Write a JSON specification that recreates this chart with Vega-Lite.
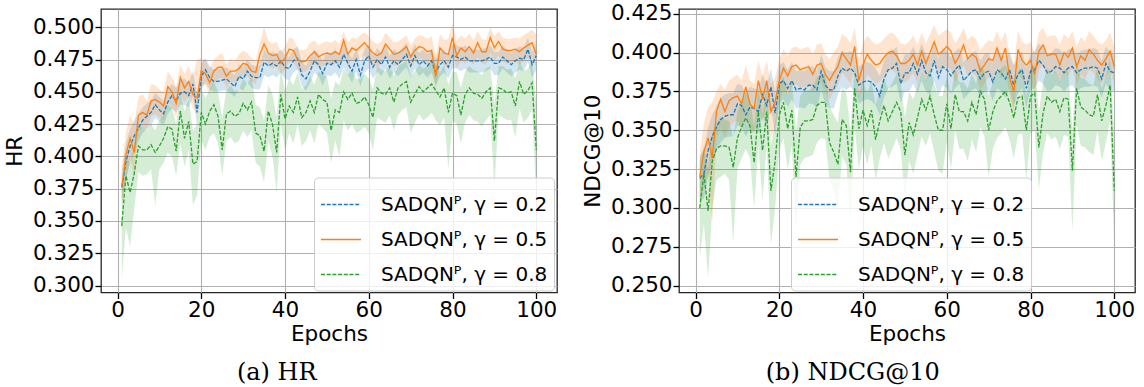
{
  "$schema": "https://vega.github.io/schema/vega-lite/v6.json",
  "background": "white",
  "padding": {"left": 3, "top": 2, "right": 4, "bottom": 0},
  "spacing": 23,
  "config": {
    "font": "DejaVu Sans",
    "view": {"stroke": "#262626", "strokeWidth": 1.3},
    "axis": {
      "labelFont": "DejaVu Sans", "labelFontSize": 21.5, "labelColor": "black",
      "titleFont": "DejaVu Sans", "titleFontSize": 21.5, "titleColor": "black", "titleFontWeight": "normal",
      "grid": true, "gridColor": "#b0b0b0", "gridWidth": 1.1,
      "domain": false, "tickColor": "black", "tickSize": 6, "tickWidth": 1.3,
      "labelPadding": 1, "labelFlush": false, "labelOverlap": false, "labelSeparation": -40
    },
    "title": {"font": "DejaVu Serif", "fontSize": 24, "fontWeight": "normal", "color": "black"},
    "legend": {
      "symbolType": "stroke", "symbolSize": 1600, "symbolStrokeWidth": 1.3,
      "labelFont": "DejaVu Sans", "labelFontSize": 20, "labelColor": "black", "labelOffset": 19, "labelLimit": 400,
      "rowPadding": 4, "padding": 6, "fillColor": "rgba(255,255,255,0.8)", "strokeColor": "#cccccc", "cornerRadius": 4
    }
  },
  "datasets": {
    "hr": [
      {"epoch":1,"gamma":"0.2","value":0.376,"lo":0.364,"hi":0.388},
      {"epoch":2,"gamma":"0.2","value":0.396,"lo":0.382,"hi":0.410},
      {"epoch":3,"gamma":"0.2","value":0.408,"lo":0.395,"hi":0.421},
      {"epoch":4,"gamma":"0.2","value":0.416,"lo":0.404,"hi":0.428},
      {"epoch":5,"gamma":"0.2","value":0.422,"lo":0.412,"hi":0.433},
      {"epoch":6,"gamma":"0.2","value":0.428,"lo":0.418,"hi":0.438},
      {"epoch":7,"gamma":"0.2","value":0.431,"lo":0.421,"hi":0.441},
      {"epoch":8,"gamma":"0.2","value":0.434,"lo":0.424,"hi":0.443},
      {"epoch":9,"gamma":"0.2","value":0.440,"lo":0.430,"hi":0.449},
      {"epoch":10,"gamma":"0.2","value":0.436,"lo":0.427,"hi":0.446},
      {"epoch":11,"gamma":"0.2","value":0.433,"lo":0.424,"hi":0.443},
      {"epoch":12,"gamma":"0.2","value":0.442,"lo":0.433,"hi":0.452},
      {"epoch":13,"gamma":"0.2","value":0.447,"lo":0.437,"hi":0.456},
      {"epoch":14,"gamma":"0.2","value":0.443,"lo":0.434,"hi":0.453},
      {"epoch":15,"gamma":"0.2","value":0.449,"lo":0.440,"hi":0.459},
      {"epoch":16,"gamma":"0.2","value":0.450,"lo":0.440,"hi":0.460},
      {"epoch":17,"gamma":"0.2","value":0.447,"lo":0.438,"hi":0.457},
      {"epoch":18,"gamma":"0.2","value":0.456,"lo":0.446,"hi":0.466},
      {"epoch":19,"gamma":"0.2","value":0.434,"lo":0.424,"hi":0.448},
      {"epoch":20,"gamma":"0.2","value":0.462,"lo":0.452,"hi":0.472},
      {"epoch":21,"gamma":"0.2","value":0.467,"lo":0.457,"hi":0.476},
      {"epoch":22,"gamma":"0.2","value":0.461,"lo":0.452,"hi":0.470},
      {"epoch":23,"gamma":"0.2","value":0.458,"lo":0.450,"hi":0.467},
      {"epoch":24,"gamma":"0.2","value":0.458,"lo":0.450,"hi":0.468},
      {"epoch":25,"gamma":"0.2","value":0.459,"lo":0.451,"hi":0.468},
      {"epoch":26,"gamma":"0.2","value":0.460,"lo":0.451,"hi":0.469},
      {"epoch":27,"gamma":"0.2","value":0.457,"lo":0.449,"hi":0.466},
      {"epoch":28,"gamma":"0.2","value":0.454,"lo":0.446,"hi":0.463},
      {"epoch":29,"gamma":"0.2","value":0.462,"lo":0.453,"hi":0.471},
      {"epoch":30,"gamma":"0.2","value":0.460,"lo":0.451,"hi":0.469},
      {"epoch":31,"gamma":"0.2","value":0.466,"lo":0.457,"hi":0.475},
      {"epoch":32,"gamma":"0.2","value":0.462,"lo":0.453,"hi":0.471},
      {"epoch":33,"gamma":"0.2","value":0.461,"lo":0.452,"hi":0.470},
      {"epoch":34,"gamma":"0.2","value":0.461,"lo":0.452,"hi":0.471},
      {"epoch":35,"gamma":"0.2","value":0.473,"lo":0.463,"hi":0.483},
      {"epoch":36,"gamma":"0.2","value":0.470,"lo":0.461,"hi":0.479},
      {"epoch":37,"gamma":"0.2","value":0.472,"lo":0.463,"hi":0.481},
      {"epoch":38,"gamma":"0.2","value":0.470,"lo":0.461,"hi":0.479},
      {"epoch":39,"gamma":"0.2","value":0.474,"lo":0.465,"hi":0.483},
      {"epoch":40,"gamma":"0.2","value":0.469,"lo":0.460,"hi":0.478},
      {"epoch":41,"gamma":"0.2","value":0.468,"lo":0.459,"hi":0.477},
      {"epoch":42,"gamma":"0.2","value":0.474,"lo":0.465,"hi":0.483},
      {"epoch":43,"gamma":"0.2","value":0.476,"lo":0.467,"hi":0.485},
      {"epoch":44,"gamma":"0.2","value":0.463,"lo":0.454,"hi":0.473},
      {"epoch":45,"gamma":"0.2","value":0.460,"lo":0.451,"hi":0.470},
      {"epoch":46,"gamma":"0.2","value":0.466,"lo":0.457,"hi":0.476},
      {"epoch":47,"gamma":"0.2","value":0.474,"lo":0.465,"hi":0.483},
      {"epoch":48,"gamma":"0.2","value":0.471,"lo":0.462,"hi":0.480},
      {"epoch":49,"gamma":"0.2","value":0.464,"lo":0.455,"hi":0.474},
      {"epoch":50,"gamma":"0.2","value":0.472,"lo":0.463,"hi":0.481},
      {"epoch":51,"gamma":"0.2","value":0.471,"lo":0.462,"hi":0.480},
      {"epoch":52,"gamma":"0.2","value":0.474,"lo":0.465,"hi":0.483},
      {"epoch":53,"gamma":"0.2","value":0.469,"lo":0.460,"hi":0.478},
      {"epoch":54,"gamma":"0.2","value":0.479,"lo":0.469,"hi":0.488},
      {"epoch":55,"gamma":"0.2","value":0.472,"lo":0.463,"hi":0.481},
      {"epoch":56,"gamma":"0.2","value":0.466,"lo":0.457,"hi":0.476},
      {"epoch":57,"gamma":"0.2","value":0.475,"lo":0.466,"hi":0.484},
      {"epoch":58,"gamma":"0.2","value":0.463,"lo":0.454,"hi":0.473},
      {"epoch":59,"gamma":"0.2","value":0.474,"lo":0.465,"hi":0.483},
      {"epoch":60,"gamma":"0.2","value":0.478,"lo":0.468,"hi":0.487},
      {"epoch":61,"gamma":"0.2","value":0.469,"lo":0.460,"hi":0.478},
      {"epoch":62,"gamma":"0.2","value":0.475,"lo":0.466,"hi":0.484},
      {"epoch":63,"gamma":"0.2","value":0.471,"lo":0.462,"hi":0.480},
      {"epoch":64,"gamma":"0.2","value":0.477,"lo":0.468,"hi":0.486},
      {"epoch":65,"gamma":"0.2","value":0.469,"lo":0.460,"hi":0.478},
      {"epoch":66,"gamma":"0.2","value":0.474,"lo":0.465,"hi":0.483},
      {"epoch":67,"gamma":"0.2","value":0.471,"lo":0.462,"hi":0.480},
      {"epoch":68,"gamma":"0.2","value":0.475,"lo":0.466,"hi":0.484},
      {"epoch":69,"gamma":"0.2","value":0.479,"lo":0.469,"hi":0.488},
      {"epoch":70,"gamma":"0.2","value":0.470,"lo":0.461,"hi":0.479},
      {"epoch":71,"gamma":"0.2","value":0.478,"lo":0.468,"hi":0.487},
      {"epoch":72,"gamma":"0.2","value":0.471,"lo":0.462,"hi":0.480},
      {"epoch":73,"gamma":"0.2","value":0.474,"lo":0.465,"hi":0.483},
      {"epoch":74,"gamma":"0.2","value":0.470,"lo":0.461,"hi":0.479},
      {"epoch":75,"gamma":"0.2","value":0.474,"lo":0.465,"hi":0.483},
      {"epoch":76,"gamma":"0.2","value":0.465,"lo":0.455,"hi":0.476},
      {"epoch":77,"gamma":"0.2","value":0.471,"lo":0.462,"hi":0.480},
      {"epoch":78,"gamma":"0.2","value":0.474,"lo":0.465,"hi":0.483},
      {"epoch":79,"gamma":"0.2","value":0.469,"lo":0.460,"hi":0.478},
      {"epoch":80,"gamma":"0.2","value":0.478,"lo":0.468,"hi":0.487},
      {"epoch":81,"gamma":"0.2","value":0.477,"lo":0.468,"hi":0.486},
      {"epoch":82,"gamma":"0.2","value":0.475,"lo":0.466,"hi":0.484},
      {"epoch":83,"gamma":"0.2","value":0.477,"lo":0.468,"hi":0.486},
      {"epoch":84,"gamma":"0.2","value":0.474,"lo":0.465,"hi":0.483},
      {"epoch":85,"gamma":"0.2","value":0.474,"lo":0.465,"hi":0.483},
      {"epoch":86,"gamma":"0.2","value":0.474,"lo":0.465,"hi":0.483},
      {"epoch":87,"gamma":"0.2","value":0.474,"lo":0.465,"hi":0.483},
      {"epoch":88,"gamma":"0.2","value":0.475,"lo":0.466,"hi":0.484},
      {"epoch":89,"gamma":"0.2","value":0.477,"lo":0.468,"hi":0.486},
      {"epoch":90,"gamma":"0.2","value":0.472,"lo":0.463,"hi":0.481},
      {"epoch":91,"gamma":"0.2","value":0.472,"lo":0.463,"hi":0.481},
      {"epoch":92,"gamma":"0.2","value":0.477,"lo":0.468,"hi":0.486},
      {"epoch":93,"gamma":"0.2","value":0.474,"lo":0.465,"hi":0.483},
      {"epoch":94,"gamma":"0.2","value":0.471,"lo":0.462,"hi":0.480},
      {"epoch":95,"gamma":"0.2","value":0.474,"lo":0.465,"hi":0.483},
      {"epoch":96,"gamma":"0.2","value":0.476,"lo":0.467,"hi":0.485},
      {"epoch":97,"gamma":"0.2","value":0.475,"lo":0.466,"hi":0.484},
      {"epoch":98,"gamma":"0.2","value":0.483,"lo":0.473,"hi":0.492},
      {"epoch":99,"gamma":"0.2","value":0.471,"lo":0.461,"hi":0.481},
      {"epoch":100,"gamma":"0.2","value":0.478,"lo":0.467,"hi":0.488},
      {"epoch":1,"gamma":"0.5","value":0.376,"lo":0.362,"hi":0.392},
      {"epoch":2,"gamma":"0.5","value":0.401,"lo":0.383,"hi":0.418},
      {"epoch":3,"gamma":"0.5","value":0.414,"lo":0.398,"hi":0.432},
      {"epoch":4,"gamma":"0.5","value":0.403,"lo":0.385,"hi":0.425},
      {"epoch":5,"gamma":"0.5","value":0.432,"lo":0.420,"hi":0.446},
      {"epoch":6,"gamma":"0.5","value":0.434,"lo":0.422,"hi":0.448},
      {"epoch":7,"gamma":"0.5","value":0.432,"lo":0.421,"hi":0.443},
      {"epoch":8,"gamma":"0.5","value":0.443,"lo":0.431,"hi":0.456},
      {"epoch":9,"gamma":"0.5","value":0.444,"lo":0.433,"hi":0.455},
      {"epoch":10,"gamma":"0.5","value":0.442,"lo":0.430,"hi":0.452},
      {"epoch":11,"gamma":"0.5","value":0.439,"lo":0.428,"hi":0.450},
      {"epoch":12,"gamma":"0.5","value":0.454,"lo":0.441,"hi":0.466},
      {"epoch":13,"gamma":"0.5","value":0.450,"lo":0.439,"hi":0.461},
      {"epoch":14,"gamma":"0.5","value":0.441,"lo":0.430,"hi":0.454},
      {"epoch":15,"gamma":"0.5","value":0.461,"lo":0.448,"hi":0.471},
      {"epoch":16,"gamma":"0.5","value":0.453,"lo":0.442,"hi":0.464},
      {"epoch":17,"gamma":"0.5","value":0.458,"lo":0.446,"hi":0.470},
      {"epoch":18,"gamma":"0.5","value":0.448,"lo":0.437,"hi":0.462},
      {"epoch":19,"gamma":"0.5","value":0.445,"lo":0.433,"hi":0.475},
      {"epoch":20,"gamma":"0.5","value":0.466,"lo":0.455,"hi":0.476},
      {"epoch":21,"gamma":"0.5","value":0.464,"lo":0.455,"hi":0.474},
      {"epoch":22,"gamma":"0.5","value":0.457,"lo":0.449,"hi":0.468},
      {"epoch":23,"gamma":"0.5","value":0.466,"lo":0.457,"hi":0.475},
      {"epoch":24,"gamma":"0.5","value":0.469,"lo":0.460,"hi":0.478},
      {"epoch":25,"gamma":"0.5","value":0.469,"lo":0.461,"hi":0.480},
      {"epoch":26,"gamma":"0.5","value":0.462,"lo":0.453,"hi":0.471},
      {"epoch":27,"gamma":"0.5","value":0.466,"lo":0.458,"hi":0.476},
      {"epoch":28,"gamma":"0.5","value":0.466,"lo":0.457,"hi":0.474},
      {"epoch":29,"gamma":"0.5","value":0.468,"lo":0.459,"hi":0.479},
      {"epoch":30,"gamma":"0.5","value":0.472,"lo":0.463,"hi":0.482},
      {"epoch":31,"gamma":"0.5","value":0.471,"lo":0.462,"hi":0.480},
      {"epoch":32,"gamma":"0.5","value":0.466,"lo":0.458,"hi":0.476},
      {"epoch":33,"gamma":"0.5","value":0.465,"lo":0.456,"hi":0.474},
      {"epoch":34,"gamma":"0.5","value":0.479,"lo":0.468,"hi":0.488},
      {"epoch":35,"gamma":"0.5","value":0.487,"lo":0.476,"hi":0.500},
      {"epoch":36,"gamma":"0.5","value":0.480,"lo":0.470,"hi":0.490},
      {"epoch":37,"gamma":"0.5","value":0.478,"lo":0.468,"hi":0.487},
      {"epoch":38,"gamma":"0.5","value":0.479,"lo":0.470,"hi":0.489},
      {"epoch":39,"gamma":"0.5","value":0.472,"lo":0.464,"hi":0.481},
      {"epoch":40,"gamma":"0.5","value":0.476,"lo":0.467,"hi":0.485},
      {"epoch":41,"gamma":"0.5","value":0.483,"lo":0.473,"hi":0.492},
      {"epoch":42,"gamma":"0.5","value":0.482,"lo":0.473,"hi":0.491},
      {"epoch":43,"gamma":"0.5","value":0.475,"lo":0.467,"hi":0.484},
      {"epoch":44,"gamma":"0.5","value":0.473,"lo":0.465,"hi":0.482},
      {"epoch":45,"gamma":"0.5","value":0.474,"lo":0.466,"hi":0.483},
      {"epoch":46,"gamma":"0.5","value":0.478,"lo":0.469,"hi":0.488},
      {"epoch":47,"gamma":"0.5","value":0.481,"lo":0.472,"hi":0.490},
      {"epoch":48,"gamma":"0.5","value":0.477,"lo":0.469,"hi":0.486},
      {"epoch":49,"gamma":"0.5","value":0.479,"lo":0.470,"hi":0.488},
      {"epoch":50,"gamma":"0.5","value":0.480,"lo":0.472,"hi":0.489},
      {"epoch":51,"gamma":"0.5","value":0.479,"lo":0.470,"hi":0.488},
      {"epoch":52,"gamma":"0.5","value":0.481,"lo":0.472,"hi":0.490},
      {"epoch":53,"gamma":"0.5","value":0.479,"lo":0.471,"hi":0.487},
      {"epoch":54,"gamma":"0.5","value":0.490,"lo":0.479,"hi":0.497},
      {"epoch":55,"gamma":"0.5","value":0.479,"lo":0.470,"hi":0.488},
      {"epoch":56,"gamma":"0.5","value":0.484,"lo":0.475,"hi":0.492},
      {"epoch":57,"gamma":"0.5","value":0.482,"lo":0.473,"hi":0.491},
      {"epoch":58,"gamma":"0.5","value":0.485,"lo":0.476,"hi":0.494},
      {"epoch":59,"gamma":"0.5","value":0.488,"lo":0.478,"hi":0.496},
      {"epoch":60,"gamma":"0.5","value":0.484,"lo":0.475,"hi":0.493},
      {"epoch":61,"gamma":"0.5","value":0.480,"lo":0.471,"hi":0.489},
      {"epoch":62,"gamma":"0.5","value":0.478,"lo":0.469,"hi":0.487},
      {"epoch":63,"gamma":"0.5","value":0.480,"lo":0.472,"hi":0.489},
      {"epoch":64,"gamma":"0.5","value":0.487,"lo":0.477,"hi":0.496},
      {"epoch":65,"gamma":"0.5","value":0.483,"lo":0.474,"hi":0.492},
      {"epoch":66,"gamma":"0.5","value":0.479,"lo":0.470,"hi":0.488},
      {"epoch":67,"gamma":"0.5","value":0.480,"lo":0.471,"hi":0.489},
      {"epoch":68,"gamma":"0.5","value":0.482,"lo":0.473,"hi":0.491},
      {"epoch":69,"gamma":"0.5","value":0.485,"lo":0.475,"hi":0.494},
      {"epoch":70,"gamma":"0.5","value":0.477,"lo":0.468,"hi":0.486},
      {"epoch":71,"gamma":"0.5","value":0.482,"lo":0.473,"hi":0.491},
      {"epoch":72,"gamma":"0.5","value":0.485,"lo":0.476,"hi":0.494},
      {"epoch":73,"gamma":"0.5","value":0.484,"lo":0.475,"hi":0.493},
      {"epoch":74,"gamma":"0.5","value":0.481,"lo":0.472,"hi":0.491},
      {"epoch":75,"gamma":"0.5","value":0.482,"lo":0.472,"hi":0.493},
      {"epoch":76,"gamma":"0.5","value":0.462,"lo":0.452,"hi":0.478},
      {"epoch":77,"gamma":"0.5","value":0.484,"lo":0.474,"hi":0.495},
      {"epoch":78,"gamma":"0.5","value":0.480,"lo":0.471,"hi":0.490},
      {"epoch":79,"gamma":"0.5","value":0.479,"lo":0.469,"hi":0.491},
      {"epoch":80,"gamma":"0.5","value":0.492,"lo":0.479,"hi":0.503},
      {"epoch":81,"gamma":"0.5","value":0.478,"lo":0.468,"hi":0.489},
      {"epoch":82,"gamma":"0.5","value":0.484,"lo":0.474,"hi":0.494},
      {"epoch":83,"gamma":"0.5","value":0.481,"lo":0.472,"hi":0.491},
      {"epoch":84,"gamma":"0.5","value":0.485,"lo":0.475,"hi":0.495},
      {"epoch":85,"gamma":"0.5","value":0.480,"lo":0.471,"hi":0.490},
      {"epoch":86,"gamma":"0.5","value":0.488,"lo":0.477,"hi":0.497},
      {"epoch":87,"gamma":"0.5","value":0.481,"lo":0.472,"hi":0.491},
      {"epoch":88,"gamma":"0.5","value":0.481,"lo":0.471,"hi":0.490},
      {"epoch":89,"gamma":"0.5","value":0.492,"lo":0.480,"hi":0.500},
      {"epoch":90,"gamma":"0.5","value":0.484,"lo":0.474,"hi":0.493},
      {"epoch":91,"gamma":"0.5","value":0.489,"lo":0.478,"hi":0.497},
      {"epoch":92,"gamma":"0.5","value":0.483,"lo":0.473,"hi":0.492},
      {"epoch":93,"gamma":"0.5","value":0.482,"lo":0.472,"hi":0.491},
      {"epoch":94,"gamma":"0.5","value":0.482,"lo":0.473,"hi":0.491},
      {"epoch":95,"gamma":"0.5","value":0.483,"lo":0.473,"hi":0.492},
      {"epoch":96,"gamma":"0.5","value":0.481,"lo":0.471,"hi":0.491},
      {"epoch":97,"gamma":"0.5","value":0.484,"lo":0.474,"hi":0.494},
      {"epoch":98,"gamma":"0.5","value":0.486,"lo":0.476,"hi":0.496},
      {"epoch":99,"gamma":"0.5","value":0.488,"lo":0.477,"hi":0.498},
      {"epoch":100,"gamma":"0.5","value":0.479,"lo":0.469,"hi":0.494},
      {"epoch":1,"gamma":"0.8","value":0.346,"lo":0.305,"hi":0.372},
      {"epoch":2,"gamma":"0.8","value":0.385,"lo":0.345,"hi":0.400},
      {"epoch":3,"gamma":"0.8","value":0.372,"lo":0.330,"hi":0.395},
      {"epoch":4,"gamma":"0.8","value":0.387,"lo":0.360,"hi":0.410},
      {"epoch":5,"gamma":"0.8","value":0.408,"lo":0.388,"hi":0.425},
      {"epoch":6,"gamma":"0.8","value":0.405,"lo":0.385,"hi":0.422},
      {"epoch":7,"gamma":"0.8","value":0.405,"lo":0.386,"hi":0.420},
      {"epoch":8,"gamma":"0.8","value":0.409,"lo":0.390,"hi":0.425},
      {"epoch":9,"gamma":"0.8","value":0.403,"lo":0.362,"hi":0.420},
      {"epoch":10,"gamma":"0.8","value":0.408,"lo":0.390,"hi":0.428},
      {"epoch":11,"gamma":"0.8","value":0.414,"lo":0.395,"hi":0.432},
      {"epoch":12,"gamma":"0.8","value":0.423,"lo":0.403,"hi":0.440},
      {"epoch":13,"gamma":"0.8","value":0.421,"lo":0.400,"hi":0.438},
      {"epoch":14,"gamma":"0.8","value":0.404,"lo":0.385,"hi":0.425},
      {"epoch":15,"gamma":"0.8","value":0.435,"lo":0.410,"hi":0.450},
      {"epoch":16,"gamma":"0.8","value":0.414,"lo":0.392,"hi":0.435},
      {"epoch":17,"gamma":"0.8","value":0.427,"lo":0.405,"hi":0.445},
      {"epoch":18,"gamma":"0.8","value":0.394,"lo":0.362,"hi":0.420},
      {"epoch":19,"gamma":"0.8","value":0.396,"lo":0.370,"hi":0.425},
      {"epoch":20,"gamma":"0.8","value":0.434,"lo":0.412,"hi":0.452},
      {"epoch":21,"gamma":"0.8","value":0.425,"lo":0.405,"hi":0.445},
      {"epoch":22,"gamma":"0.8","value":0.435,"lo":0.415,"hi":0.452},
      {"epoch":23,"gamma":"0.8","value":0.440,"lo":0.418,"hi":0.458},
      {"epoch":24,"gamma":"0.8","value":0.431,"lo":0.410,"hi":0.450},
      {"epoch":25,"gamma":"0.8","value":0.405,"lo":0.385,"hi":0.430},
      {"epoch":26,"gamma":"0.8","value":0.433,"lo":0.412,"hi":0.452},
      {"epoch":27,"gamma":"0.8","value":0.435,"lo":0.415,"hi":0.455},
      {"epoch":28,"gamma":"0.8","value":0.431,"lo":0.410,"hi":0.450},
      {"epoch":29,"gamma":"0.8","value":0.433,"lo":0.412,"hi":0.452},
      {"epoch":30,"gamma":"0.8","value":0.441,"lo":0.420,"hi":0.460},
      {"epoch":31,"gamma":"0.8","value":0.436,"lo":0.415,"hi":0.456},
      {"epoch":32,"gamma":"0.8","value":0.442,"lo":0.420,"hi":0.462},
      {"epoch":33,"gamma":"0.8","value":0.418,"lo":0.395,"hi":0.440},
      {"epoch":34,"gamma":"0.8","value":0.416,"lo":0.392,"hi":0.438},
      {"epoch":35,"gamma":"0.8","value":0.404,"lo":0.380,"hi":0.428},
      {"epoch":36,"gamma":"0.8","value":0.435,"lo":0.412,"hi":0.455},
      {"epoch":37,"gamma":"0.8","value":0.425,"lo":0.400,"hi":0.448},
      {"epoch":38,"gamma":"0.8","value":0.403,"lo":0.372,"hi":0.430},
      {"epoch":39,"gamma":"0.8","value":0.448,"lo":0.425,"hi":0.468},
      {"epoch":40,"gamma":"0.8","value":0.429,"lo":0.405,"hi":0.450},
      {"epoch":41,"gamma":"0.8","value":0.439,"lo":0.418,"hi":0.460},
      {"epoch":42,"gamma":"0.8","value":0.434,"lo":0.410,"hi":0.455},
      {"epoch":43,"gamma":"0.8","value":0.446,"lo":0.425,"hi":0.465},
      {"epoch":44,"gamma":"0.8","value":0.430,"lo":0.408,"hi":0.452},
      {"epoch":45,"gamma":"0.8","value":0.434,"lo":0.412,"hi":0.455},
      {"epoch":46,"gamma":"0.8","value":0.443,"lo":0.420,"hi":0.462},
      {"epoch":47,"gamma":"0.8","value":0.434,"lo":0.410,"hi":0.455},
      {"epoch":48,"gamma":"0.8","value":0.448,"lo":0.425,"hi":0.466},
      {"epoch":49,"gamma":"0.8","value":0.444,"lo":0.422,"hi":0.463},
      {"epoch":50,"gamma":"0.8","value":0.442,"lo":0.418,"hi":0.462},
      {"epoch":51,"gamma":"0.8","value":0.420,"lo":0.395,"hi":0.445},
      {"epoch":52,"gamma":"0.8","value":0.436,"lo":0.412,"hi":0.458},
      {"epoch":53,"gamma":"0.8","value":0.434,"lo":0.400,"hi":0.455},
      {"epoch":54,"gamma":"0.8","value":0.450,"lo":0.428,"hi":0.468},
      {"epoch":55,"gamma":"0.8","value":0.444,"lo":0.420,"hi":0.463},
      {"epoch":56,"gamma":"0.8","value":0.449,"lo":0.425,"hi":0.467},
      {"epoch":57,"gamma":"0.8","value":0.441,"lo":0.418,"hi":0.460},
      {"epoch":58,"gamma":"0.8","value":0.442,"lo":0.420,"hi":0.460},
      {"epoch":59,"gamma":"0.8","value":0.446,"lo":0.423,"hi":0.464},
      {"epoch":60,"gamma":"0.8","value":0.440,"lo":0.418,"hi":0.460},
      {"epoch":61,"gamma":"0.8","value":0.430,"lo":0.405,"hi":0.452},
      {"epoch":62,"gamma":"0.8","value":0.453,"lo":0.430,"hi":0.470},
      {"epoch":63,"gamma":"0.8","value":0.449,"lo":0.428,"hi":0.467},
      {"epoch":64,"gamma":"0.8","value":0.448,"lo":0.426,"hi":0.466},
      {"epoch":65,"gamma":"0.8","value":0.453,"lo":0.432,"hi":0.470},
      {"epoch":66,"gamma":"0.8","value":0.442,"lo":0.420,"hi":0.462},
      {"epoch":67,"gamma":"0.8","value":0.453,"lo":0.432,"hi":0.470},
      {"epoch":68,"gamma":"0.8","value":0.456,"lo":0.436,"hi":0.472},
      {"epoch":69,"gamma":"0.8","value":0.458,"lo":0.438,"hi":0.474},
      {"epoch":70,"gamma":"0.8","value":0.442,"lo":0.418,"hi":0.462},
      {"epoch":71,"gamma":"0.8","value":0.448,"lo":0.426,"hi":0.466},
      {"epoch":72,"gamma":"0.8","value":0.454,"lo":0.433,"hi":0.471},
      {"epoch":73,"gamma":"0.8","value":0.450,"lo":0.428,"hi":0.468},
      {"epoch":74,"gamma":"0.8","value":0.453,"lo":0.430,"hi":0.470},
      {"epoch":75,"gamma":"0.8","value":0.456,"lo":0.434,"hi":0.473},
      {"epoch":76,"gamma":"0.8","value":0.451,"lo":0.428,"hi":0.472},
      {"epoch":77,"gamma":"0.8","value":0.446,"lo":0.424,"hi":0.465},
      {"epoch":78,"gamma":"0.8","value":0.453,"lo":0.430,"hi":0.471},
      {"epoch":79,"gamma":"0.8","value":0.434,"lo":0.390,"hi":0.455},
      {"epoch":80,"gamma":"0.8","value":0.449,"lo":0.428,"hi":0.466},
      {"epoch":81,"gamma":"0.8","value":0.447,"lo":0.425,"hi":0.465},
      {"epoch":82,"gamma":"0.8","value":0.432,"lo":0.410,"hi":0.453},
      {"epoch":83,"gamma":"0.8","value":0.448,"lo":0.426,"hi":0.466},
      {"epoch":84,"gamma":"0.8","value":0.453,"lo":0.432,"hi":0.470},
      {"epoch":85,"gamma":"0.8","value":0.449,"lo":0.428,"hi":0.467},
      {"epoch":86,"gamma":"0.8","value":0.448,"lo":0.427,"hi":0.466},
      {"epoch":87,"gamma":"0.8","value":0.445,"lo":0.423,"hi":0.463},
      {"epoch":88,"gamma":"0.8","value":0.450,"lo":0.428,"hi":0.468},
      {"epoch":89,"gamma":"0.8","value":0.453,"lo":0.432,"hi":0.470},
      {"epoch":90,"gamma":"0.8","value":0.412,"lo":0.375,"hi":0.440},
      {"epoch":91,"gamma":"0.8","value":0.453,"lo":0.432,"hi":0.470},
      {"epoch":92,"gamma":"0.8","value":0.452,"lo":0.430,"hi":0.470},
      {"epoch":93,"gamma":"0.8","value":0.449,"lo":0.428,"hi":0.467},
      {"epoch":94,"gamma":"0.8","value":0.450,"lo":0.428,"hi":0.468},
      {"epoch":95,"gamma":"0.8","value":0.439,"lo":0.415,"hi":0.460},
      {"epoch":96,"gamma":"0.8","value":0.458,"lo":0.437,"hi":0.474},
      {"epoch":97,"gamma":"0.8","value":0.448,"lo":0.426,"hi":0.466},
      {"epoch":98,"gamma":"0.8","value":0.451,"lo":0.430,"hi":0.468},
      {"epoch":99,"gamma":"0.8","value":0.457,"lo":0.436,"hi":0.474},
      {"epoch":100,"gamma":"0.8","value":0.405,"lo":0.370,"hi":0.440}
    ],
    "ndcg": [
      {"epoch":1,"gamma":"0.2","value":0.319,"lo":0.305,"hi":0.333},
      {"epoch":2,"gamma":"0.2","value":0.322,"lo":0.306,"hi":0.338},
      {"epoch":3,"gamma":"0.2","value":0.337,"lo":0.320,"hi":0.352},
      {"epoch":4,"gamma":"0.2","value":0.346,"lo":0.330,"hi":0.360},
      {"epoch":5,"gamma":"0.2","value":0.352,"lo":0.337,"hi":0.366},
      {"epoch":6,"gamma":"0.2","value":0.357,"lo":0.342,"hi":0.371},
      {"epoch":7,"gamma":"0.2","value":0.359,"lo":0.345,"hi":0.373},
      {"epoch":8,"gamma":"0.2","value":0.360,"lo":0.346,"hi":0.374},
      {"epoch":9,"gamma":"0.2","value":0.360,"lo":0.346,"hi":0.374},
      {"epoch":10,"gamma":"0.2","value":0.367,"lo":0.353,"hi":0.380},
      {"epoch":11,"gamma":"0.2","value":0.366,"lo":0.352,"hi":0.379},
      {"epoch":12,"gamma":"0.2","value":0.360,"lo":0.346,"hi":0.374},
      {"epoch":13,"gamma":"0.2","value":0.365,"lo":0.351,"hi":0.378},
      {"epoch":14,"gamma":"0.2","value":0.364,"lo":0.350,"hi":0.377},
      {"epoch":15,"gamma":"0.2","value":0.362,"lo":0.348,"hi":0.376},
      {"epoch":16,"gamma":"0.2","value":0.373,"lo":0.359,"hi":0.386},
      {"epoch":17,"gamma":"0.2","value":0.366,"lo":0.352,"hi":0.379},
      {"epoch":18,"gamma":"0.2","value":0.378,"lo":0.364,"hi":0.390},
      {"epoch":19,"gamma":"0.2","value":0.361,"lo":0.347,"hi":0.375},
      {"epoch":20,"gamma":"0.2","value":0.380,"lo":0.367,"hi":0.392},
      {"epoch":21,"gamma":"0.2","value":0.382,"lo":0.370,"hi":0.394},
      {"epoch":22,"gamma":"0.2","value":0.377,"lo":0.365,"hi":0.389},
      {"epoch":23,"gamma":"0.2","value":0.382,"lo":0.370,"hi":0.394},
      {"epoch":24,"gamma":"0.2","value":0.376,"lo":0.364,"hi":0.388},
      {"epoch":25,"gamma":"0.2","value":0.377,"lo":0.365,"hi":0.389},
      {"epoch":26,"gamma":"0.2","value":0.376,"lo":0.364,"hi":0.388},
      {"epoch":27,"gamma":"0.2","value":0.379,"lo":0.367,"hi":0.391},
      {"epoch":28,"gamma":"0.2","value":0.379,"lo":0.367,"hi":0.391},
      {"epoch":29,"gamma":"0.2","value":0.376,"lo":0.364,"hi":0.388},
      {"epoch":30,"gamma":"0.2","value":0.388,"lo":0.376,"hi":0.399},
      {"epoch":31,"gamma":"0.2","value":0.379,"lo":0.367,"hi":0.391},
      {"epoch":32,"gamma":"0.2","value":0.376,"lo":0.364,"hi":0.388},
      {"epoch":33,"gamma":"0.2","value":0.376,"lo":0.364,"hi":0.388},
      {"epoch":34,"gamma":"0.2","value":0.385,"lo":0.373,"hi":0.397},
      {"epoch":35,"gamma":"0.2","value":0.390,"lo":0.378,"hi":0.401},
      {"epoch":36,"gamma":"0.2","value":0.388,"lo":0.376,"hi":0.400},
      {"epoch":37,"gamma":"0.2","value":0.390,"lo":0.378,"hi":0.401},
      {"epoch":38,"gamma":"0.2","value":0.387,"lo":0.375,"hi":0.399},
      {"epoch":39,"gamma":"0.2","value":0.379,"lo":0.367,"hi":0.391},
      {"epoch":40,"gamma":"0.2","value":0.381,"lo":0.369,"hi":0.393},
      {"epoch":41,"gamma":"0.2","value":0.382,"lo":0.370,"hi":0.394},
      {"epoch":42,"gamma":"0.2","value":0.381,"lo":0.369,"hi":0.393},
      {"epoch":43,"gamma":"0.2","value":0.378,"lo":0.366,"hi":0.390},
      {"epoch":44,"gamma":"0.2","value":0.372,"lo":0.360,"hi":0.385},
      {"epoch":45,"gamma":"0.2","value":0.383,"lo":0.371,"hi":0.395},
      {"epoch":46,"gamma":"0.2","value":0.389,"lo":0.377,"hi":0.400},
      {"epoch":47,"gamma":"0.2","value":0.390,"lo":0.378,"hi":0.401},
      {"epoch":48,"gamma":"0.2","value":0.393,"lo":0.380,"hi":0.404},
      {"epoch":49,"gamma":"0.2","value":0.380,"lo":0.368,"hi":0.392},
      {"epoch":50,"gamma":"0.2","value":0.387,"lo":0.375,"hi":0.399},
      {"epoch":51,"gamma":"0.2","value":0.387,"lo":0.375,"hi":0.399},
      {"epoch":52,"gamma":"0.2","value":0.393,"lo":0.380,"hi":0.404},
      {"epoch":53,"gamma":"0.2","value":0.386,"lo":0.374,"hi":0.398},
      {"epoch":54,"gamma":"0.2","value":0.395,"lo":0.382,"hi":0.406},
      {"epoch":55,"gamma":"0.2","value":0.387,"lo":0.375,"hi":0.399},
      {"epoch":56,"gamma":"0.2","value":0.385,"lo":0.373,"hi":0.397},
      {"epoch":57,"gamma":"0.2","value":0.395,"lo":0.382,"hi":0.406},
      {"epoch":58,"gamma":"0.2","value":0.384,"lo":0.372,"hi":0.396},
      {"epoch":59,"gamma":"0.2","value":0.391,"lo":0.379,"hi":0.403},
      {"epoch":60,"gamma":"0.2","value":0.389,"lo":0.377,"hi":0.401},
      {"epoch":61,"gamma":"0.2","value":0.385,"lo":0.373,"hi":0.397},
      {"epoch":62,"gamma":"0.2","value":0.389,"lo":0.377,"hi":0.401},
      {"epoch":63,"gamma":"0.2","value":0.392,"lo":0.380,"hi":0.403},
      {"epoch":64,"gamma":"0.2","value":0.382,"lo":0.370,"hi":0.394},
      {"epoch":65,"gamma":"0.2","value":0.385,"lo":0.373,"hi":0.397},
      {"epoch":66,"gamma":"0.2","value":0.388,"lo":0.376,"hi":0.400},
      {"epoch":67,"gamma":"0.2","value":0.389,"lo":0.377,"hi":0.401},
      {"epoch":68,"gamma":"0.2","value":0.383,"lo":0.371,"hi":0.395},
      {"epoch":69,"gamma":"0.2","value":0.387,"lo":0.375,"hi":0.399},
      {"epoch":70,"gamma":"0.2","value":0.388,"lo":0.376,"hi":0.400},
      {"epoch":71,"gamma":"0.2","value":0.381,"lo":0.369,"hi":0.393},
      {"epoch":72,"gamma":"0.2","value":0.389,"lo":0.377,"hi":0.401},
      {"epoch":73,"gamma":"0.2","value":0.387,"lo":0.375,"hi":0.399},
      {"epoch":74,"gamma":"0.2","value":0.383,"lo":0.371,"hi":0.395},
      {"epoch":75,"gamma":"0.2","value":0.389,"lo":0.377,"hi":0.401},
      {"epoch":76,"gamma":"0.2","value":0.379,"lo":0.365,"hi":0.392},
      {"epoch":77,"gamma":"0.2","value":0.386,"lo":0.374,"hi":0.398},
      {"epoch":78,"gamma":"0.2","value":0.389,"lo":0.377,"hi":0.401},
      {"epoch":79,"gamma":"0.2","value":0.377,"lo":0.364,"hi":0.390},
      {"epoch":80,"gamma":"0.2","value":0.388,"lo":0.376,"hi":0.400},
      {"epoch":81,"gamma":"0.2","value":0.389,"lo":0.377,"hi":0.401},
      {"epoch":82,"gamma":"0.2","value":0.395,"lo":0.382,"hi":0.406},
      {"epoch":83,"gamma":"0.2","value":0.392,"lo":0.380,"hi":0.403},
      {"epoch":84,"gamma":"0.2","value":0.387,"lo":0.375,"hi":0.399},
      {"epoch":85,"gamma":"0.2","value":0.388,"lo":0.376,"hi":0.400},
      {"epoch":86,"gamma":"0.2","value":0.391,"lo":0.379,"hi":0.403},
      {"epoch":87,"gamma":"0.2","value":0.390,"lo":0.378,"hi":0.402},
      {"epoch":88,"gamma":"0.2","value":0.387,"lo":0.375,"hi":0.399},
      {"epoch":89,"gamma":"0.2","value":0.390,"lo":0.378,"hi":0.402},
      {"epoch":90,"gamma":"0.2","value":0.391,"lo":0.379,"hi":0.403},
      {"epoch":91,"gamma":"0.2","value":0.387,"lo":0.375,"hi":0.399},
      {"epoch":92,"gamma":"0.2","value":0.389,"lo":0.377,"hi":0.401},
      {"epoch":93,"gamma":"0.2","value":0.390,"lo":0.378,"hi":0.402},
      {"epoch":94,"gamma":"0.2","value":0.390,"lo":0.378,"hi":0.402},
      {"epoch":95,"gamma":"0.2","value":0.391,"lo":0.379,"hi":0.403},
      {"epoch":96,"gamma":"0.2","value":0.390,"lo":0.378,"hi":0.402},
      {"epoch":97,"gamma":"0.2","value":0.383,"lo":0.371,"hi":0.395},
      {"epoch":98,"gamma":"0.2","value":0.393,"lo":0.380,"hi":0.404},
      {"epoch":99,"gamma":"0.2","value":0.388,"lo":0.376,"hi":0.400},
      {"epoch":100,"gamma":"0.2","value":0.387,"lo":0.375,"hi":0.399},
      {"epoch":1,"gamma":"0.5","value":0.320,"lo":0.300,"hi":0.335},
      {"epoch":2,"gamma":"0.5","value":0.336,"lo":0.315,"hi":0.355},
      {"epoch":3,"gamma":"0.5","value":0.345,"lo":0.322,"hi":0.365},
      {"epoch":4,"gamma":"0.5","value":0.332,"lo":0.290,"hi":0.368},
      {"epoch":5,"gamma":"0.5","value":0.362,"lo":0.345,"hi":0.375},
      {"epoch":6,"gamma":"0.5","value":0.370,"lo":0.352,"hi":0.380},
      {"epoch":7,"gamma":"0.5","value":0.362,"lo":0.345,"hi":0.376},
      {"epoch":8,"gamma":"0.5","value":0.369,"lo":0.352,"hi":0.382},
      {"epoch":9,"gamma":"0.5","value":0.371,"lo":0.355,"hi":0.384},
      {"epoch":10,"gamma":"0.5","value":0.372,"lo":0.356,"hi":0.386},
      {"epoch":11,"gamma":"0.5","value":0.367,"lo":0.350,"hi":0.382},
      {"epoch":12,"gamma":"0.5","value":0.378,"lo":0.360,"hi":0.392},
      {"epoch":13,"gamma":"0.5","value":0.367,"lo":0.350,"hi":0.382},
      {"epoch":14,"gamma":"0.5","value":0.364,"lo":0.348,"hi":0.380},
      {"epoch":15,"gamma":"0.5","value":0.382,"lo":0.365,"hi":0.395},
      {"epoch":16,"gamma":"0.5","value":0.370,"lo":0.355,"hi":0.385},
      {"epoch":17,"gamma":"0.5","value":0.382,"lo":0.366,"hi":0.395},
      {"epoch":18,"gamma":"0.5","value":0.362,"lo":0.345,"hi":0.380},
      {"epoch":19,"gamma":"0.5","value":0.368,"lo":0.352,"hi":0.384},
      {"epoch":20,"gamma":"0.5","value":0.382,"lo":0.368,"hi":0.396},
      {"epoch":21,"gamma":"0.5","value":0.390,"lo":0.376,"hi":0.402},
      {"epoch":22,"gamma":"0.5","value":0.385,"lo":0.372,"hi":0.398},
      {"epoch":23,"gamma":"0.5","value":0.391,"lo":0.378,"hi":0.403},
      {"epoch":24,"gamma":"0.5","value":0.392,"lo":0.380,"hi":0.404},
      {"epoch":25,"gamma":"0.5","value":0.389,"lo":0.377,"hi":0.402},
      {"epoch":26,"gamma":"0.5","value":0.390,"lo":0.378,"hi":0.403},
      {"epoch":27,"gamma":"0.5","value":0.391,"lo":0.379,"hi":0.404},
      {"epoch":28,"gamma":"0.5","value":0.386,"lo":0.374,"hi":0.399},
      {"epoch":29,"gamma":"0.5","value":0.392,"lo":0.380,"hi":0.405},
      {"epoch":30,"gamma":"0.5","value":0.393,"lo":0.381,"hi":0.406},
      {"epoch":31,"gamma":"0.5","value":0.386,"lo":0.374,"hi":0.399},
      {"epoch":32,"gamma":"0.5","value":0.382,"lo":0.370,"hi":0.396},
      {"epoch":33,"gamma":"0.5","value":0.387,"lo":0.375,"hi":0.400},
      {"epoch":34,"gamma":"0.5","value":0.391,"lo":0.379,"hi":0.404},
      {"epoch":35,"gamma":"0.5","value":0.400,"lo":0.387,"hi":0.412},
      {"epoch":36,"gamma":"0.5","value":0.396,"lo":0.384,"hi":0.410},
      {"epoch":37,"gamma":"0.5","value":0.392,"lo":0.380,"hi":0.406},
      {"epoch":38,"gamma":"0.5","value":0.404,"lo":0.390,"hi":0.416},
      {"epoch":39,"gamma":"0.5","value":0.382,"lo":0.370,"hi":0.396},
      {"epoch":40,"gamma":"0.5","value":0.392,"lo":0.380,"hi":0.406},
      {"epoch":41,"gamma":"0.5","value":0.399,"lo":0.386,"hi":0.411},
      {"epoch":42,"gamma":"0.5","value":0.395,"lo":0.383,"hi":0.408},
      {"epoch":43,"gamma":"0.5","value":0.392,"lo":0.380,"hi":0.405},
      {"epoch":44,"gamma":"0.5","value":0.393,"lo":0.381,"hi":0.406},
      {"epoch":45,"gamma":"0.5","value":0.397,"lo":0.385,"hi":0.409},
      {"epoch":46,"gamma":"0.5","value":0.400,"lo":0.388,"hi":0.412},
      {"epoch":47,"gamma":"0.5","value":0.401,"lo":0.389,"hi":0.413},
      {"epoch":48,"gamma":"0.5","value":0.398,"lo":0.386,"hi":0.410},
      {"epoch":49,"gamma":"0.5","value":0.393,"lo":0.381,"hi":0.406},
      {"epoch":50,"gamma":"0.5","value":0.393,"lo":0.381,"hi":0.405},
      {"epoch":51,"gamma":"0.5","value":0.395,"lo":0.383,"hi":0.407},
      {"epoch":52,"gamma":"0.5","value":0.399,"lo":0.387,"hi":0.411},
      {"epoch":53,"gamma":"0.5","value":0.392,"lo":0.380,"hi":0.405},
      {"epoch":54,"gamma":"0.5","value":0.401,"lo":0.389,"hi":0.413},
      {"epoch":55,"gamma":"0.5","value":0.393,"lo":0.381,"hi":0.406},
      {"epoch":56,"gamma":"0.5","value":0.400,"lo":0.388,"hi":0.412},
      {"epoch":57,"gamma":"0.5","value":0.407,"lo":0.393,"hi":0.418},
      {"epoch":58,"gamma":"0.5","value":0.399,"lo":0.387,"hi":0.411},
      {"epoch":59,"gamma":"0.5","value":0.401,"lo":0.389,"hi":0.413},
      {"epoch":60,"gamma":"0.5","value":0.404,"lo":0.391,"hi":0.415},
      {"epoch":61,"gamma":"0.5","value":0.401,"lo":0.389,"hi":0.413},
      {"epoch":62,"gamma":"0.5","value":0.393,"lo":0.381,"hi":0.406},
      {"epoch":63,"gamma":"0.5","value":0.398,"lo":0.386,"hi":0.410},
      {"epoch":64,"gamma":"0.5","value":0.405,"lo":0.392,"hi":0.416},
      {"epoch":65,"gamma":"0.5","value":0.396,"lo":0.384,"hi":0.408},
      {"epoch":66,"gamma":"0.5","value":0.399,"lo":0.387,"hi":0.411},
      {"epoch":67,"gamma":"0.5","value":0.397,"lo":0.385,"hi":0.409},
      {"epoch":68,"gamma":"0.5","value":0.388,"lo":0.376,"hi":0.401},
      {"epoch":69,"gamma":"0.5","value":0.392,"lo":0.380,"hi":0.405},
      {"epoch":70,"gamma":"0.5","value":0.396,"lo":0.384,"hi":0.408},
      {"epoch":71,"gamma":"0.5","value":0.395,"lo":0.383,"hi":0.407},
      {"epoch":72,"gamma":"0.5","value":0.403,"lo":0.390,"hi":0.414},
      {"epoch":73,"gamma":"0.5","value":0.395,"lo":0.383,"hi":0.407},
      {"epoch":74,"gamma":"0.5","value":0.403,"lo":0.390,"hi":0.414},
      {"epoch":75,"gamma":"0.5","value":0.384,"lo":0.372,"hi":0.398},
      {"epoch":76,"gamma":"0.5","value":0.375,"lo":0.362,"hi":0.392},
      {"epoch":77,"gamma":"0.5","value":0.402,"lo":0.389,"hi":0.414},
      {"epoch":78,"gamma":"0.5","value":0.395,"lo":0.383,"hi":0.407},
      {"epoch":79,"gamma":"0.5","value":0.392,"lo":0.380,"hi":0.405},
      {"epoch":80,"gamma":"0.5","value":0.395,"lo":0.383,"hi":0.407},
      {"epoch":81,"gamma":"0.5","value":0.386,"lo":0.374,"hi":0.400},
      {"epoch":82,"gamma":"0.5","value":0.401,"lo":0.389,"hi":0.413},
      {"epoch":83,"gamma":"0.5","value":0.405,"lo":0.392,"hi":0.416},
      {"epoch":84,"gamma":"0.5","value":0.398,"lo":0.386,"hi":0.410},
      {"epoch":85,"gamma":"0.5","value":0.399,"lo":0.387,"hi":0.411},
      {"epoch":86,"gamma":"0.5","value":0.399,"lo":0.387,"hi":0.411},
      {"epoch":87,"gamma":"0.5","value":0.392,"lo":0.380,"hi":0.405},
      {"epoch":88,"gamma":"0.5","value":0.400,"lo":0.388,"hi":0.412},
      {"epoch":89,"gamma":"0.5","value":0.397,"lo":0.385,"hi":0.409},
      {"epoch":90,"gamma":"0.5","value":0.403,"lo":0.390,"hi":0.414},
      {"epoch":91,"gamma":"0.5","value":0.391,"lo":0.379,"hi":0.404},
      {"epoch":92,"gamma":"0.5","value":0.398,"lo":0.386,"hi":0.410},
      {"epoch":93,"gamma":"0.5","value":0.395,"lo":0.383,"hi":0.407},
      {"epoch":94,"gamma":"0.5","value":0.402,"lo":0.389,"hi":0.414},
      {"epoch":95,"gamma":"0.5","value":0.399,"lo":0.387,"hi":0.411},
      {"epoch":96,"gamma":"0.5","value":0.395,"lo":0.383,"hi":0.407},
      {"epoch":97,"gamma":"0.5","value":0.392,"lo":0.380,"hi":0.405},
      {"epoch":98,"gamma":"0.5","value":0.396,"lo":0.384,"hi":0.408},
      {"epoch":99,"gamma":"0.5","value":0.401,"lo":0.389,"hi":0.413},
      {"epoch":100,"gamma":"0.5","value":0.391,"lo":0.379,"hi":0.404},
      {"epoch":1,"gamma":"0.8","value":0.300,"lo":0.268,"hi":0.330},
      {"epoch":2,"gamma":"0.8","value":0.322,"lo":0.290,"hi":0.340},
      {"epoch":3,"gamma":"0.8","value":0.298,"lo":0.255,"hi":0.325},
      {"epoch":4,"gamma":"0.8","value":0.330,"lo":0.300,"hi":0.348},
      {"epoch":5,"gamma":"0.8","value":0.338,"lo":0.318,"hi":0.355},
      {"epoch":6,"gamma":"0.8","value":0.340,"lo":0.320,"hi":0.358},
      {"epoch":7,"gamma":"0.8","value":0.340,"lo":0.322,"hi":0.357},
      {"epoch":8,"gamma":"0.8","value":0.339,"lo":0.318,"hi":0.356},
      {"epoch":9,"gamma":"0.8","value":0.326,"lo":0.278,"hi":0.345},
      {"epoch":10,"gamma":"0.8","value":0.345,"lo":0.325,"hi":0.362},
      {"epoch":11,"gamma":"0.8","value":0.352,"lo":0.332,"hi":0.368},
      {"epoch":12,"gamma":"0.8","value":0.358,"lo":0.338,"hi":0.374},
      {"epoch":13,"gamma":"0.8","value":0.353,"lo":0.332,"hi":0.370},
      {"epoch":14,"gamma":"0.8","value":0.329,"lo":0.300,"hi":0.352},
      {"epoch":15,"gamma":"0.8","value":0.362,"lo":0.340,"hi":0.378},
      {"epoch":16,"gamma":"0.8","value":0.337,"lo":0.305,"hi":0.360},
      {"epoch":17,"gamma":"0.8","value":0.362,"lo":0.340,"hi":0.380},
      {"epoch":18,"gamma":"0.8","value":0.311,"lo":0.276,"hi":0.340},
      {"epoch":19,"gamma":"0.8","value":0.330,"lo":0.300,"hi":0.355},
      {"epoch":20,"gamma":"0.8","value":0.360,"lo":0.338,"hi":0.378},
      {"epoch":21,"gamma":"0.8","value":0.368,"lo":0.345,"hi":0.385},
      {"epoch":22,"gamma":"0.8","value":0.351,"lo":0.325,"hi":0.372},
      {"epoch":23,"gamma":"0.8","value":0.363,"lo":0.340,"hi":0.382},
      {"epoch":24,"gamma":"0.8","value":0.320,"lo":0.285,"hi":0.350},
      {"epoch":25,"gamma":"0.8","value":0.352,"lo":0.328,"hi":0.372},
      {"epoch":26,"gamma":"0.8","value":0.356,"lo":0.332,"hi":0.376},
      {"epoch":27,"gamma":"0.8","value":0.356,"lo":0.333,"hi":0.376},
      {"epoch":28,"gamma":"0.8","value":0.357,"lo":0.334,"hi":0.377},
      {"epoch":29,"gamma":"0.8","value":0.366,"lo":0.342,"hi":0.384},
      {"epoch":30,"gamma":"0.8","value":0.368,"lo":0.345,"hi":0.386},
      {"epoch":31,"gamma":"0.8","value":0.368,"lo":0.344,"hi":0.386},
      {"epoch":32,"gamma":"0.8","value":0.342,"lo":0.318,"hi":0.365},
      {"epoch":33,"gamma":"0.8","value":0.336,"lo":0.310,"hi":0.360},
      {"epoch":34,"gamma":"0.8","value":0.328,"lo":0.300,"hi":0.355},
      {"epoch":35,"gamma":"0.8","value":0.357,"lo":0.333,"hi":0.378},
      {"epoch":36,"gamma":"0.8","value":0.353,"lo":0.328,"hi":0.374},
      {"epoch":37,"gamma":"0.8","value":0.323,"lo":0.290,"hi":0.350},
      {"epoch":38,"gamma":"0.8","value":0.377,"lo":0.352,"hi":0.392},
      {"epoch":39,"gamma":"0.8","value":0.351,"lo":0.325,"hi":0.372},
      {"epoch":40,"gamma":"0.8","value":0.363,"lo":0.340,"hi":0.382},
      {"epoch":41,"gamma":"0.8","value":0.353,"lo":0.328,"hi":0.374},
      {"epoch":42,"gamma":"0.8","value":0.363,"lo":0.340,"hi":0.382},
      {"epoch":43,"gamma":"0.8","value":0.344,"lo":0.318,"hi":0.366},
      {"epoch":44,"gamma":"0.8","value":0.356,"lo":0.332,"hi":0.376},
      {"epoch":45,"gamma":"0.8","value":0.366,"lo":0.342,"hi":0.384},
      {"epoch":46,"gamma":"0.8","value":0.356,"lo":0.332,"hi":0.376},
      {"epoch":47,"gamma":"0.8","value":0.362,"lo":0.338,"hi":0.381},
      {"epoch":48,"gamma":"0.8","value":0.368,"lo":0.345,"hi":0.386},
      {"epoch":49,"gamma":"0.8","value":0.362,"lo":0.338,"hi":0.381},
      {"epoch":50,"gamma":"0.8","value":0.334,"lo":0.305,"hi":0.358},
      {"epoch":51,"gamma":"0.8","value":0.355,"lo":0.330,"hi":0.375},
      {"epoch":52,"gamma":"0.8","value":0.347,"lo":0.322,"hi":0.370},
      {"epoch":53,"gamma":"0.8","value":0.358,"lo":0.334,"hi":0.378},
      {"epoch":54,"gamma":"0.8","value":0.370,"lo":0.346,"hi":0.388},
      {"epoch":55,"gamma":"0.8","value":0.363,"lo":0.340,"hi":0.382},
      {"epoch":56,"gamma":"0.8","value":0.372,"lo":0.348,"hi":0.390},
      {"epoch":57,"gamma":"0.8","value":0.360,"lo":0.336,"hi":0.380},
      {"epoch":58,"gamma":"0.8","value":0.350,"lo":0.324,"hi":0.372},
      {"epoch":59,"gamma":"0.8","value":0.350,"lo":0.322,"hi":0.372},
      {"epoch":60,"gamma":"0.8","value":0.367,"lo":0.343,"hi":0.385},
      {"epoch":61,"gamma":"0.8","value":0.351,"lo":0.325,"hi":0.372},
      {"epoch":62,"gamma":"0.8","value":0.373,"lo":0.350,"hi":0.390},
      {"epoch":63,"gamma":"0.8","value":0.362,"lo":0.338,"hi":0.381},
      {"epoch":64,"gamma":"0.8","value":0.362,"lo":0.338,"hi":0.381},
      {"epoch":65,"gamma":"0.8","value":0.356,"lo":0.330,"hi":0.377},
      {"epoch":66,"gamma":"0.8","value":0.368,"lo":0.344,"hi":0.386},
      {"epoch":67,"gamma":"0.8","value":0.360,"lo":0.336,"hi":0.380},
      {"epoch":68,"gamma":"0.8","value":0.375,"lo":0.352,"hi":0.392},
      {"epoch":69,"gamma":"0.8","value":0.370,"lo":0.346,"hi":0.388},
      {"epoch":70,"gamma":"0.8","value":0.350,"lo":0.320,"hi":0.372},
      {"epoch":71,"gamma":"0.8","value":0.362,"lo":0.338,"hi":0.381},
      {"epoch":72,"gamma":"0.8","value":0.369,"lo":0.345,"hi":0.387},
      {"epoch":73,"gamma":"0.8","value":0.372,"lo":0.348,"hi":0.390},
      {"epoch":74,"gamma":"0.8","value":0.375,"lo":0.352,"hi":0.392},
      {"epoch":75,"gamma":"0.8","value":0.368,"lo":0.344,"hi":0.386},
      {"epoch":76,"gamma":"0.8","value":0.358,"lo":0.332,"hi":0.378},
      {"epoch":77,"gamma":"0.8","value":0.371,"lo":0.347,"hi":0.389},
      {"epoch":78,"gamma":"0.8","value":0.372,"lo":0.348,"hi":0.390},
      {"epoch":79,"gamma":"0.8","value":0.350,"lo":0.318,"hi":0.372},
      {"epoch":80,"gamma":"0.8","value":0.372,"lo":0.348,"hi":0.390},
      {"epoch":81,"gamma":"0.8","value":0.374,"lo":0.350,"hi":0.392},
      {"epoch":82,"gamma":"0.8","value":0.339,"lo":0.312,"hi":0.362},
      {"epoch":83,"gamma":"0.8","value":0.361,"lo":0.336,"hi":0.381},
      {"epoch":84,"gamma":"0.8","value":0.372,"lo":0.348,"hi":0.390},
      {"epoch":85,"gamma":"0.8","value":0.368,"lo":0.344,"hi":0.386},
      {"epoch":86,"gamma":"0.8","value":0.370,"lo":0.346,"hi":0.388},
      {"epoch":87,"gamma":"0.8","value":0.362,"lo":0.338,"hi":0.381},
      {"epoch":88,"gamma":"0.8","value":0.371,"lo":0.347,"hi":0.389},
      {"epoch":89,"gamma":"0.8","value":0.370,"lo":0.346,"hi":0.388},
      {"epoch":90,"gamma":"0.8","value":0.324,"lo":0.285,"hi":0.350},
      {"epoch":91,"gamma":"0.8","value":0.377,"lo":0.354,"hi":0.394},
      {"epoch":92,"gamma":"0.8","value":0.365,"lo":0.340,"hi":0.384},
      {"epoch":93,"gamma":"0.8","value":0.363,"lo":0.339,"hi":0.383},
      {"epoch":94,"gamma":"0.8","value":0.360,"lo":0.336,"hi":0.380},
      {"epoch":95,"gamma":"0.8","value":0.359,"lo":0.334,"hi":0.379},
      {"epoch":96,"gamma":"0.8","value":0.373,"lo":0.350,"hi":0.391},
      {"epoch":97,"gamma":"0.8","value":0.356,"lo":0.330,"hi":0.377},
      {"epoch":98,"gamma":"0.8","value":0.366,"lo":0.342,"hi":0.385},
      {"epoch":99,"gamma":"0.8","value":0.379,"lo":0.356,"hi":0.396},
      {"epoch":100,"gamma":"0.8","value":0.311,"lo":0.275,"hi":0.345}
    ]
  },
  "hconcat": [
    {
      "width": 456,
      "height": 283.5,
      "title": {"text": "(a) HR", "orient": "bottom", "anchor": "middle", "frame": "bounds", "offset": 16, "dx": -4},
      "data": {"name": "hr"},
      "layer": [
        {
          "mark": {"type": "area", "opacity": 0.2, "clip": true},
          "encoding": {
            "x": {"field": "epoch", "type": "quantitative", "title": "Epochs",
                  "scale": {"domain": [-3.95, 104.95], "nice": false, "zero": false},
                  "axis": {"values": [0, 20, 40, 60, 80, 100], "titlePadding": 2, "labelOverlap": false}},
            "y": {"field": "lo", "type": "quantitative", "title": "HR",
                  "scale": {"domain": [0.2946, 0.5141], "nice": false, "zero": false},
                  "axis": {"values": [0.3, 0.325, 0.35, 0.375, 0.4, 0.425, 0.45, 0.475, 0.5], "format": ".3f", "titlePadding": 6, "labelOverlap": false}},
            "y2": {"field": "hi"},
            "fill": {"field": "gamma", "type": "nominal",
                     "scale": {"range": ["#1f77b4", "#ff7f0e", "#2ca02c"]},
                     "legend": null}
          }
        },
        {
          "mark": {"type": "line", "strokeWidth": 1.3, "clip": true},
          "encoding": {
            "x": {"field": "epoch", "type": "quantitative", "title": "Epochs",
                  "axis": {"values": [0, 20, 40, 60, 80, 100], "titlePadding": 2, "labelOverlap": false}},
            "y": {"field": "value", "type": "quantitative", "title": "HR",
                  "axis": {"values": [0.3, 0.325, 0.35, 0.375, 0.4, 0.425, 0.45, 0.475, 0.5], "format": ".3f", "titlePadding": 6, "labelOverlap": false}},
            "color": {"field": "gamma", "type": "nominal",
                      "scale": {"domain": ["0.2", "0.5", "0.8"], "range": ["#1f77b4", "#ff7f0e", "#2ca02c"]},
                      "legend": {"orient": "none", "legendX": 213, "legendY": 168.5, "title": null,
                                 "labelExpr": "'SADQNᴾ, γ = ' + datum.label"}},
            "strokeDash": {"field": "gamma", "type": "nominal",
                           "scale": {"domain": ["0.2", "0.5", "0.8"], "range": [[4, 1.7], [1, 0], [4, 1.7]]},
                           "legend": {"orient": "none", "legendX": 213, "legendY": 168.5, "title": null,
                                      "labelExpr": "'SADQNᴾ, γ = ' + datum.label"}}
          }
        }
      ]
    },
    {
      "width": 456,
      "height": 283.5,
      "title": {"text": "(b) NDCG@10", "orient": "bottom", "anchor": "middle", "frame": "bounds", "offset": 16, "dx": -6},
      "data": {"name": "ndcg"},
      "layer": [
        {
          "mark": {"type": "area", "opacity": 0.2, "clip": true},
          "encoding": {
            "x": {"field": "epoch", "type": "quantitative", "title": "Epochs",
                  "scale": {"domain": [-3.95, 104.95], "nice": false, "zero": false},
                  "axis": {"values": [0, 20, 40, 60, 80, 100], "titlePadding": 2, "labelOverlap": false}},
            "y": {"field": "lo", "type": "quantitative", "title": "NDCG@10",
                  "scale": {"domain": [0.2455, 0.4281], "nice": false, "zero": false},
                  "axis": {"values": [0.25, 0.275, 0.3, 0.325, 0.35, 0.375, 0.4, 0.425], "format": ".3f", "titlePadding": 6, "labelOverlap": false}},
            "y2": {"field": "hi"},
            "fill": {"field": "gamma", "type": "nominal",
                     "scale": {"range": ["#1f77b4", "#ff7f0e", "#2ca02c"]},
                     "legend": null}
          }
        },
        {
          "mark": {"type": "line", "strokeWidth": 1.3, "clip": true},
          "encoding": {
            "x": {"field": "epoch", "type": "quantitative", "title": "Epochs",
                  "axis": {"values": [0, 20, 40, 60, 80, 100], "titlePadding": 2, "labelOverlap": false}},
            "y": {"field": "value", "type": "quantitative", "title": "NDCG@10",
                  "axis": {"values": [0.25, 0.275, 0.3, 0.325, 0.35, 0.375, 0.4, 0.425], "format": ".3f", "titlePadding": 6, "labelOverlap": false}},
            "color": {"field": "gamma", "type": "nominal",
                      "scale": {"domain": ["0.2", "0.5", "0.8"], "range": ["#1f77b4", "#ff7f0e", "#2ca02c"]},
                      "legend": {"orient": "none", "legendX": 112, "legendY": 168.5, "title": null,
                                 "labelExpr": "'SADQNᴾ, γ = ' + datum.label"}},
            "strokeDash": {"field": "gamma", "type": "nominal",
                           "scale": {"domain": ["0.2", "0.5", "0.8"], "range": [[4, 1.7], [1, 0], [4, 1.7]]},
                           "legend": {"orient": "none", "legendX": 112, "legendY": 168.5, "title": null,
                                      "labelExpr": "'SADQNᴾ, γ = ' + datum.label"}}
          }
        }
      ]
    }
  ],
  "resolve": {
    "scale": {"color": "independent", "strokeDash": "independent", "fill": "independent"},
    "legend": {"color": "independent", "strokeDash": "independent"}
  }
}
